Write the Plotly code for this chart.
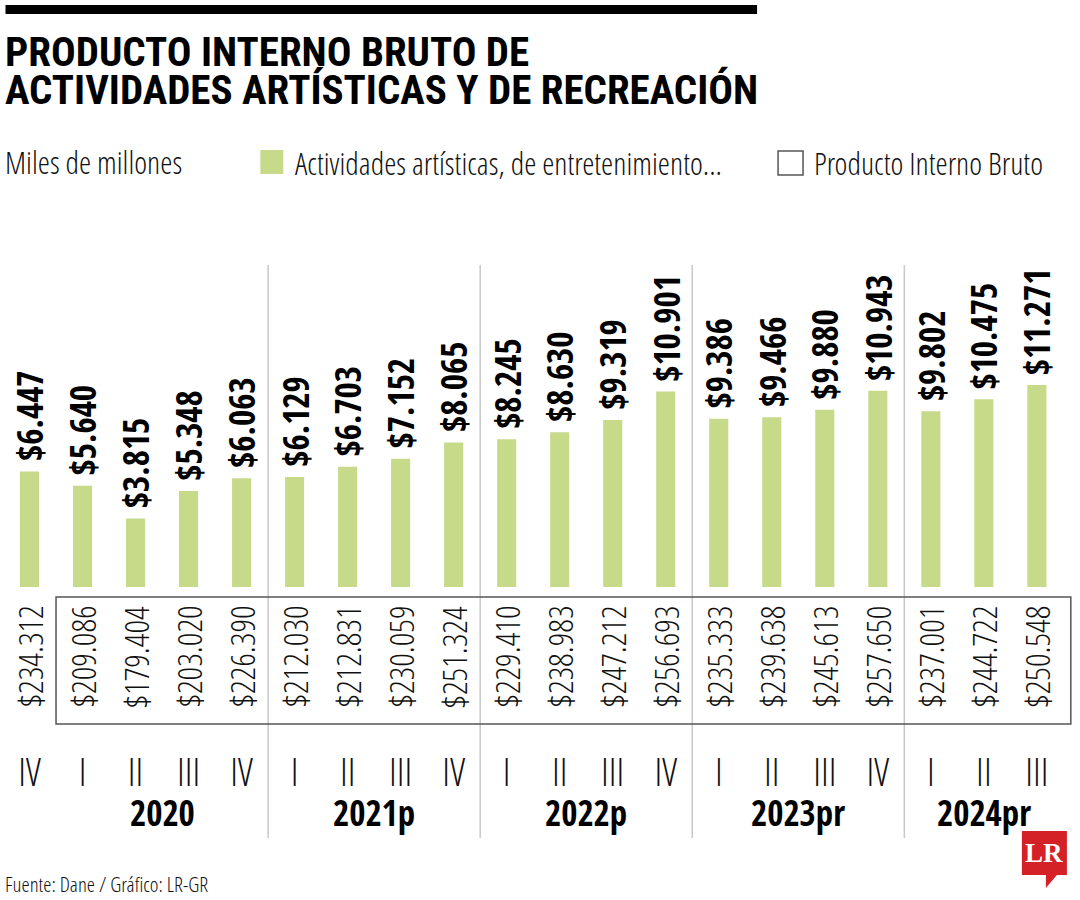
import plotly.graph_objects as go

# ---------------- data ----------------
quarters = ["IV", "I", "II", "III", "IV", "I", "II", "III", "IV", "I", "II", "III", "IV",
            "I", "II", "III", "IV", "I", "II", "III"]
arts_values = [6447, 5640, 3815, 5348, 6063, 6129, 6703, 7152, 8065, 8245, 8630, 9319, 10901,
               9386, 9466, 9880, 10943, 9802, 10475, 11271]
pib_values = [234312, 209086, 179404, 203020, 226390, 212030, 212831, 230059, 251324, 229410,
              238983, 247212, 256693, 235333, 239638, 245613, 257650, 237001, 244722, 250548]
year_labels = ["2020", "2021p", "2022p", "2023pr", "2024pr"]
year_groups = [[1, 2, 3, 4], [5, 6, 7, 8], [9, 10, 11, 12], [13, 14, 15, 16], [17, 18, 19]]
separators_after = [4, 8, 12, 16]

TITLE_1 = "PRODUCTO INTERNO BRUTO DE"
TITLE_2 = "ACTIVIDADES ARTÍSTICAS Y DE RECREACIÓN"
UNITS = "Miles de millones"
LEG_ARTS = "Actividades artísticas, de entretenimiento..."
LEG_PIB = "Producto Interno Bruto"
SOURCE = "Fuente: Dane / Gráfico: LR-GR"

GREEN = "#c6da8a"
BOLD = "Open Sans Condensed, Roboto Condensed, DejaVu Sans Condensed, sans-serif"
LIGHT = "Open Sans Condensed Light, DejaVu Sans Condensed, sans-serif"
TITLE_FONT = "Roboto Condensed, Open Sans Condensed, sans-serif"


def fmt(v):
    return "$" + f"{v:,}".replace(",", ".")


# ---------------- geometry ----------------
W, H = 1080, 900
L = 2.5
X_MAX = 19.7
STEP = 53.05
PW = (X_MAX + 0.5) * STEP
R = W - L - PW
TOP = 240
BASE = 587
PH = BASE - TOP
PX_PER_UNIT = 17.93 / 1000.0
Y_MAX = PH / PX_PER_UNIT


def px_x(px):
    return (px - L) / PW


def px_y(py):
    return (BASE - py) / PH


xs = list(range(len(quarters)))

fig = go.Figure()
fig.add_trace(go.Bar(
    x=xs, y=arts_values,
    marker=dict(color=GREEN, line=dict(width=0)),
    showlegend=False, hoverinfo="skip",
))

shapes = []
annotations = []

# bar value labels
for i, v in enumerate(arts_values):
    annotations.append(dict(text=fmt(v), xref="x", yref="y", x=i, y=v, yshift=8,
                            xanchor="center", yanchor="bottom", textangle=-90, showarrow=False,
                            font=dict(family=BOLD, size=35, color="#000000", weight="bold")))

# top black rule
shapes.append(dict(type="rect", xref="paper", yref="paper",
                   x0=px_x(5), x1=px_x(757), y0=px_y(14), y1=px_y(5),
                   fillcolor="#000000", line=dict(width=0)))

# title
annotations.append(dict(text=TITLE_1, xref="paper", yref="paper", x=px_x(3), y=px_y(52),
                        xanchor="left", yanchor="middle", showarrow=False,
                        font=dict(family=TITLE_FONT, size=41, color="#000000", weight="bold")))
annotations.append(dict(text=TITLE_2, xref="paper", yref="paper", x=px_x(3), y=px_y(90),
                        xanchor="left", yanchor="middle", showarrow=False,
                        font=dict(family=TITLE_FONT, size=41, color="#000000", weight="bold")))

# units + legend
annotations.append(dict(text=UNITS, xref="paper", yref="paper", x=px_x(3), y=px_y(162),
                        xanchor="left", yanchor="middle", showarrow=False,
                        font=dict(family=LIGHT, size=31, color="#111111")))
shapes.append(dict(type="rect", xref="paper", yref="paper",
                   x0=px_x(260), x1=px_x(283), y0=px_y(174), y1=px_y(150),
                   fillcolor=GREEN, line=dict(width=0)))
annotations.append(dict(text=LEG_ARTS, xref="paper", yref="paper", x=px_x(293), y=px_y(163),
                        xanchor="left", yanchor="middle", showarrow=False,
                        font=dict(family=LIGHT, size=31, color="#111111")))
shapes.append(dict(type="rect", xref="paper", yref="paper",
                   x0=px_x(778), x1=px_x(803), y0=px_y(175), y1=px_y(151),
                   fillcolor="white", line=dict(color="#555555", width=1.5)))
annotations.append(dict(text=LEG_PIB, xref="paper", yref="paper", x=px_x(812), y=px_y(163),
                        xanchor="left", yanchor="middle", showarrow=False,
                        font=dict(family=LIGHT, size=31, color="#111111")))

# separators between years
for s in separators_after:
    shapes.append(dict(type="line", xref="x", yref="paper", x0=s + 0.5, x1=s + 0.5,
                       y0=px_y(265), y1=px_y(838), line=dict(color="#c8c8c8", width=1.5),
                       layer="below"))

# PIB box
shapes.append(dict(type="rect", xref="x", yref="paper", x0=0.5, x1=19.64,
                   y0=px_y(724), y1=px_y(597), line=dict(color="#555555", width=1.5),
                   fillcolor="rgba(0,0,0,0)"))

# PIB values
for i, v in enumerate(pib_values):
    annotations.append(dict(text=fmt(v), xref="x", yref="paper", x=i, y=px_y(657),
                            xanchor="center", yanchor="middle", textangle=-90, showarrow=False,
                            font=dict(family=LIGHT, size=34, color="#111111")))

# year labels
for lab, grp in zip(year_labels, year_groups):
    annotations.append(dict(text=lab, xref="x", yref="paper", x=sum(grp) / len(grp), y=px_y(812),
                            xanchor="center", yanchor="middle", showarrow=False,
                            font=dict(family=BOLD, size=35, color="#000000", weight="bold")))

# source
annotations.append(dict(text=SOURCE, xref="paper", yref="paper", x=px_x(3), y=px_y(884),
                        xanchor="left", yanchor="middle", showarrow=False,
                        font=dict(family=LIGHT, size=21, color="#111111")))

# LR logo
pts = [(1022, 831), (1067, 831), (1067, 875), (1057, 875), (1046, 888), (1046, 875), (1022, 875)]
path = "M " + " L ".join(f"{px_x(a):.5f},{px_y(b):.5f}" for a, b in pts) + " Z"
shapes.append(dict(type="path", xref="paper", yref="paper", path=path,
                   fillcolor="#d42027", line=dict(width=0)))
annotations.append(dict(text="LR", xref="paper", yref="paper", x=px_x(1044.5), y=px_y(853),
                        xanchor="center", yanchor="middle", showarrow=False,
                        font=dict(family="Liberation Serif, DejaVu Serif, serif", size=27,
                                  color="white", weight="bold")))

fig.update_layout(
    width=W, height=H,
    margin=dict(l=L, r=R, t=TOP, b=H - BASE, pad=0),
    paper_bgcolor="white", plot_bgcolor="white",
    bargap=0.64,
    xaxis=dict(range=[-0.5, X_MAX], tickmode="array", tickvals=xs, ticktext=quarters,
               showgrid=False, zeroline=False, showline=False, ticks="",
               ticklabelstandoff=160,
               tickfont=dict(family=LIGHT, size=38, color="#111111")),
    yaxis=dict(range=[0, Y_MAX], visible=False, showgrid=False, zeroline=False),
    shapes=shapes, annotations=annotations,
    showlegend=False,
)

fig.write_html("out.html", config={"displayModeBar": False},
               post_script="document.body.style.margin='0';")
